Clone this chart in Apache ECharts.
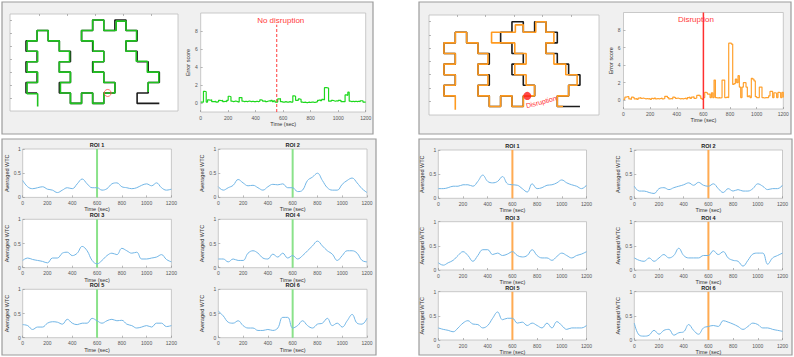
<!DOCTYPE html>
<html><head><meta charset="utf-8">
<script src="https://cdn.jsdelivr.net/npm/echarts@6/dist/echarts.min.js"></script>
<style>html,body{margin:0;padding:0;background:#fff}#c{width:794px;height:357px}</style>
</head><body><div id="c"></div>
<script>
// ---------------- DATA ----------------
const roiNames = ['ROI 1','ROI 2','ROI 3','ROI 4','ROI 5','ROI 6'];
const errTickValues = [0,2,4,6,8];
const mazeTickX = [1.15,3.67,6.19,8.71,11.23];
const mazeTickY = [0,1.25,2.5,3.75,5,6.25,7.5];
const noDisruptionTime = 553;
const disruptionTime = 600;
const disruptionPoint = [7.35, 7];

// reference maze path (black), grid units
const mazeRef = [[1,7],[0,7],[0,6],[1,6],[1,5],[0,5],[0,4],[1,4],[1,3],[0,3],[0,2],[1,2],[1,1],[2,1],[2,2],[3,2],[3,3],[4,3],[4,4],[3,4],[3,5],[4,5],[4,6],[3,6],[3,7],[4,7],[4,8],[5,8],[5,7],[6,7],[6,8],[7,8],[7,7],[8,7],[8,6],[7,6],[7,5],[6,5],[6,4],[7,4],[7,3],[6,3],[6,2],[5,2],[5,1],[6,1],[6,0],[7,0],[7,1],[8,1],[8,0],[9,0],[9,1],[10,1],[10,2],[9,2],[9,3],[10,3],[10,4],[11,4],[11,5],[12,5],[12,6],[11,6],[11,7],[10,7],[10,8],[12,8]];
// player path without disruption (green)
const mazePathA = [[1.05,8.3],[1.05,7.08],[0.1,7.08],[0.1,6],[1.05,6],[1.05,5],[0.1,5],[0.1,4],[1.05,4],[1.05,3],[0.1,3],[0.1,2],[1,2],[1,1],[2,1],[2,2],[3,2],[3,3],[3.92,3],[3.92,4],[3,4],[3,5],[4,5],[4,6],[3.1,6],[3.1,7],[4,7],[4,8],[5,8],[5,7],[6,7],[6,8],[7,8],[7,7],[8,7],[8,6],[7,6],[7,5],[6.05,5],[6.05,4],[7,4],[7,3],[6.05,3],[6.05,2],[5,2],[5,1],[6,1],[6,0],[7,0],[7,1],[8.12,1],[8.12,0.1],[9,0.1],[9,1],[9.95,1],[9.95,2],[9,2],[9,3],[9.92,3],[9.92,3.95],[10.92,3.95],[10.92,5],[11.95,5],[11.95,6],[11,6],[11,6.9]];
// player path with disruption (orange)
const mazePathB = [[1,8.3],[1,7],[0,7],[0,6],[1,6],[1,5],[0,5],[0,4],[1,4],[1,3],[0,3],[0,2],[1,2],[1,1],[2,1],[2,2],[3,2],[3,3],[3.88,3],[3.88,4],[3,4],[3,5],[3.88,5],[3.88,6],[3,6],[3,7],[4,7],[4,8],[5,8],[5,7],[6,7],[6,8],[7,8],[7,7],[8,7],[8,6],[7.25,6],[7.25,5],[6.25,5],[6.25,4],[7.25,4],[7.25,3],[6.25,3],[6.25,2],[4.2,2],[4.2,1],[6.3,1],[6.3,0.3],[7,0.3],[7,1],[8.1,1],[8.1,0],[9,0],[9,1],[9.7,1],[9.7,2],[9,2],[9,3],[9.7,3],[9.7,4],[10.75,4],[10.75,5],[11.75,5],[11.75,6],[11,6],[11,7],[10,7],[10,8],[10.5,8]];

// error score, one value every 10 s from 0 to 1200 s
const errScoreA = [0.1,0.1,1.3,1.25,0.1,0.35,0.3,0.35,0.15,0.15,0.2,0.1,0.15,0.3,0.25,0.3,0.15,0.2,0.15,0.3,
0.75,0.7,0.2,0.15,0.2,0.2,0.15,0.1,0.6,0.6,0.2,0.15,0.2,0.15,0.2,0.2,0.15,0.2,0.15,0.15,
0.2,0.15,0.2,0.35,0.3,0.2,0.25,0.15,0.2,0.25,0.2,0.3,0.15,0.25,0.1,0.1,0.45,0.5,0.15,0.1,
0.1,0.15,0.1,0.1,0.15,0.1,0.1,0.8,0.75,0.3,0.3,0.45,0.4,0.1,0.05,0.1,0.05,0.05,0.1,0.05,
0.1,0.1,0.05,0.1,0.15,0.3,0.35,0.25,0.4,0.35,1.7,1.7,1.65,0.2,0.2,0.3,0.25,0.2,0.25,0.2,
0.3,0.3,0.15,0.15,0.15,0.9,0.85,1.2,0.2,0.15,0.2,0.15,0.2,0.15,0.2,0.15,0.25,0.25,0.1,0.1,0.1];
const errScoreB = [0.1,0.35,0.4,0.4,0.15,0.1,0.35,0.3,0.15,0.2,0.1,0.25,0.3,0.2,0.25,0.2,0.15,0.2,0.15,0.2,
0.1,0.2,0.15,0.25,0.15,0.2,0.15,0.2,0.25,0.15,0.2,0.45,0.45,0.3,0.15,0.2,0.15,0.35,0.3,0.2,
0.25,0.2,0.15,0.2,0.15,0.2,0.25,0.15,0.3,0.35,0.2,0.35,0.4,0.2,0.25,0.55,0.6,0.5,0.2,0.1,
0.3,0.9,0.85,0.7,0.7,0.3,0.85,0.3,2.3,0.3,0.25,0.3,0.25,0.3,2.3,2.3,0.3,0.35,0.3,6.5,
6.5,6.4,1.8,1.9,2.4,2.0,2.8,1.5,0.3,1.5,2.0,2.0,1.5,0.4,0.5,0.3,2.5,2.4,2.2,0.4,
0.3,0.3,1.5,1.5,0.3,0.25,0.3,0.3,0.3,0.5,1.0,1.0,0.3,0.85,0.8,0.3,0.9,0.85,0.3,0.9,0.3];

// averaged WTC, one value every 40 s from 0 to 1200 s
const wtcNoDisruption = [
[0.35,0.22,0.18,0.2,0.22,0.17,0.15,0.1,0.15,0.2,0.18,0.28,0.38,0.28,0.2,0.2,0.15,0.18,0.28,0.3,0.22,0.2,0.18,0.2,0.25,0.28,0.24,0.3,0.2,0.15,0.17],
[0.22,0.15,0.2,0.25,0.37,0.3,0.24,0.25,0.2,0.15,0.22,0.27,0.26,0.28,0.2,0.2,0.12,0.15,0.35,0.42,0.5,0.35,0.2,0.15,0.15,0.27,0.35,0.4,0.3,0.18,0.1],
[0.15,0.2,0.17,0.15,0.13,0.1,0.2,0.2,0.3,0.32,0.25,0.3,0.44,0.35,0.15,0.08,0.15,0.25,0.3,0.27,0.4,0.35,0.3,0.32,0.18,0.18,0.2,0.22,0.27,0.17,0.12],
[0.18,0.18,0.12,0.18,0.15,0.15,0.3,0.35,0.3,0.2,0.18,0.28,0.22,0.3,0.2,0.25,0.18,0.25,0.35,0.45,0.55,0.45,0.35,0.28,0.15,0.25,0.35,0.35,0.3,0.15,0.12],
[0.27,0.25,0.17,0.22,0.22,0.3,0.33,0.32,0.28,0.38,0.3,0.27,0.3,0.3,0.4,0.35,0.3,0.35,0.38,0.35,0.36,0.28,0.25,0.2,0.22,0.25,0.22,0.3,0.3,0.23,0.25],
[0.55,0.45,0.32,0.3,0.35,0.25,0.2,0.2,0.15,0.15,0.17,0.15,0.2,0.42,0.42,0.2,0.25,0.35,0.25,0.2,0.28,0.3,0.4,0.25,0.3,0.22,0.35,0.48,0.3,0.28,0.4]
];
const wtcDisruption = [
[0.2,0.2,0.22,0.25,0.25,0.28,0.28,0.25,0.35,0.48,0.35,0.32,0.35,0.45,0.3,0.28,0.27,0.2,0.13,0.3,0.2,0.22,0.27,0.28,0.32,0.38,0.32,0.28,0.25,0.2,0.27],
[0.25,0.15,0.15,0.12,0.1,0.2,0.22,0.18,0.22,0.25,0.28,0.32,0.27,0.33,0.27,0.25,0.3,0.2,0.12,0.2,0.15,0.18,0.15,0.15,0.2,0.3,0.25,0.18,0.2,0.2,0.27],
[0.15,0.1,0.15,0.2,0.3,0.38,0.3,0.18,0.3,0.42,0.42,0.32,0.35,0.3,0.33,0.38,0.3,0.27,0.3,0.42,0.3,0.25,0.25,0.2,0.28,0.35,0.3,0.25,0.3,0.33,0.38],
[0.25,0.2,0.18,0.25,0.18,0.25,0.32,0.25,0.3,0.45,0.3,0.25,0.25,0.25,0.3,0.3,0.4,0.32,0.38,0.25,0.2,0.18,0.08,0.2,0.33,0.35,0.35,0.12,0.25,0.3,0.35],
[0.25,0.22,0.2,0.17,0.25,0.35,0.4,0.33,0.32,0.25,0.3,0.45,0.58,0.42,0.45,0.45,0.35,0.37,0.3,0.35,0.3,0.25,0.35,0.25,0.38,0.3,0.22,0.25,0.25,0.25,0.3],
[0.35,0.1,0.08,0.1,0.2,0.12,0.2,0.22,0.1,0.15,0.17,0.32,0.2,0.12,0.25,0.28,0.3,0.28,0.4,0.37,0.33,0.28,0.22,0.28,0.35,0.32,0.25,0.25,0.22,0.2,0.18]
];
const errStep = 10, wtcStep = 40;

// ---------------- CHART ----------------
const FONT = '"Liberation Sans", Arial, Helvetica, sans-serif';
const chart = echarts.init(document.getElementById('c'), null, {renderer:'svg'});
const grids=[], xAxes=[], yAxes=[], series=[];
const tickLS = {color:'#8a8a8a', width:0.6};
const labStyle = {fontSize:5, color:'#555', fontFamily:FONT, formatter:v=>String(v)};
const nameStyle = {fontSize:5.5, color:'#333', fontFamily:FONT};
const noLine = {show:false,onZero:false};

function addGrid(l,t,w,h){
  grids.push({left:l,top:t,width:w,height:h,show:true,backgroundColor:'#fff',borderColor:'#bdbdbd',borderWidth:0.8,containLabel:false});
  return grids.length-1;
}
function mazeAxes(gi,xmin,xmax,ymin,ymax){
  xAxes.push({type:'value',gridIndex:gi,min:xmin,max:xmax,position:'top',axisLine:noLine,splitLine:{show:false},
    axisLabel:{show:false},axisTick:{show:true,inside:true,length:2,customValues:mazeTickX,lineStyle:tickLS}});
  yAxes.push({type:'value',gridIndex:gi,min:ymin,max:ymax,inverse:true,position:'left',axisLine:noLine,splitLine:{show:false},
    axisLabel:{show:false},axisTick:{show:true,inside:true,length:2,customValues:mazeTickY,lineStyle:tickLS}});
}
function timeAxis(gi, margin, gap){
  xAxes.push({type:'value',gridIndex:gi,min:0,max:1200,interval:200,position:'bottom',axisLine:noLine,splitLine:{show:false},
    axisTick:{show:true,inside:true,length:2,lineStyle:tickLS},axisLabel:Object.assign({margin:margin},labStyle),
    name:'Time (sec)',nameLocation:'middle',nameGap:gap,nameTextStyle:nameStyle});
}
function lineSeries(gi,data,color,width,extra){
  series.push(Object.assign({type:'line',xAxisIndex:gi,yAxisIndex:gi,data:data,symbol:'none',silent:true,color:color,
    itemStyle:{color:color},lineStyle:{color:color,width:width},animation:false},extra||{}));
}

// --- top-left: maze A
let g = addGrid(10,14,168,97);
mazeAxes(g,-1.44,13.68,-0.58,8.73);
lineSeries(g,mazeRef,'#1c1c1c',1.6);
lineSeries(g,mazePathA,'#1fc21f',1.6);
series.push({type:'scatter',xAxisIndex:g,yAxisIndex:g,data:[disruptionPoint],symbol:'circle',symbolSize:7,silent:true,
  itemStyle:{color:'rgba(0,0,0,0)',borderColor:'#ff4a4a',borderWidth:1},z:5});
const gMazeA = g;

// --- top-left: error A
g = addGrid(200.7,13,165,99);
timeAxis(g,3,8);
yAxes.push({type:'value',gridIndex:g,min:-1,max:10,position:'left',axisLine:noLine,splitLine:{show:false},
  axisTick:{show:true,inside:true,length:2,customValues:errTickValues,lineStyle:tickLS},
  axisLabel:Object.assign({customValues:errTickValues,margin:3},labStyle),
  name:'Error score',nameLocation:'middle',nameGap:7,nameTextStyle:nameStyle});
lineSeries(g,errScoreA.map((v,i)=>[i*errStep,v]),'#1ed81e',1.2,{step:'end'});
lineSeries(g,[[noDisruptionTime,-1],[noDisruptionTime,8.7]],'#ff3b3b',1,{lineStyle:{color:'#ff3b3b',width:1,type:[3,2]}});
const gErrA = g;

// --- top-right: maze B
g = addGrid(429,15,170,100);
mazeAxes(g,-1.32,13.68,-0.63,8.8);
lineSeries(g,mazeRef,'#1c1c1c',1.6);
lineSeries(g,mazePathB,'#ff9a1f',1.6);
series.push({type:'scatter',xAxisIndex:g,yAxisIndex:g,data:[disruptionPoint],symbol:'circle',symbolSize:8,silent:true,
  itemStyle:{color:'#ff1a1a'},z:5});
const gMazeB = g;

// --- top-right: error B
g = addGrid(623.5,12.5,159.8,96.5);
timeAxis(g,2,7);
yAxes.push({type:'value',gridIndex:g,min:-1,max:10,position:'left',axisLine:noLine,splitLine:{show:false},
  axisTick:{show:true,inside:true,length:2,customValues:errTickValues,lineStyle:tickLS},
  axisLabel:Object.assign({customValues:errTickValues,margin:3},labStyle),
  name:'Error score',nameLocation:'middle',nameGap:7,nameTextStyle:nameStyle});
lineSeries(g,errScoreB.map((v,i)=>[i*errStep,v]),'#ffa12e',1.2,{step:'end'});
lineSeries(g,[[disruptionTime,-1],[disruptionTime,10]],'#ff3030',1.5,{z:4});
const gErrB = g;

// --- bottom small multiples
const roiGrids = [];
function roiPanel(colLefts,rowTops,w,h,dataSet,markColor){
  for(let k=0;k<6;k++){
    const r=Math.floor(k/2), c=k%2;
    const gi = addGrid(colLefts[c],rowTops[r],w,h);
    roiGrids.push({gi:gi,x:colLefts[c]+w/2,y:rowTops[r]-4,name:roiNames[k]});
    timeAxis(gi,3,8);
    yAxes.push({type:'value',gridIndex:gi,min:0,max:1,interval:0.5,position:'left',axisLine:noLine,splitLine:{show:false},
      axisTick:{show:true,inside:true,length:2,lineStyle:tickLS},axisLabel:Object.assign({margin:2},labStyle),
      name:'Averaged WTC',nameLocation:'middle',nameGap:7.5,nameTextStyle:nameStyle});
    lineSeries(gi,[[disruptionTime,0],[disruptionTime,1]],markColor,2);
    lineSeries(gi,dataSet[k].map((v,i)=>[i*wtcStep,v]),'#72b6e6',1,{smooth:0.4});
  }
}
roiPanel([22.7,218.3],[149,219.3,289.3],148.7,48.4,wtcNoDisruption,'#8ae28a');
roiPanel([438.3,634.3],[150,221.7,291.7],148.2,48.3,wtcDisruption,'#ffab52');

chart.setOption({animation:false,backgroundColor:'#fff',textStyle:{fontFamily:FONT},
  grid:grids,xAxis:xAxes,yAxis:yAxes,series:series});

// ---------------- annotations (anchored through the scales) ----------------
const gfx = [];
const panels = [[2,2,371,132],[419,2,372,132],[2,139,374,216],[419,139,373,216]];
panels.forEach(p=>gfx.push({type:'rect',z:-10,shape:{x:p[0],y:p[1],width:p[2],height:p[3]},
  style:{fill:'#f0f0f0',stroke:'#9c9c9c',lineWidth:1.2},silent:true}));
roiGrids.forEach(t=>gfx.push({type:'text',z:50,x:t.x,y:t.y,silent:true,
  style:{text:t.name,fontSize:5.5,fontWeight:'bold',fill:'#222',align:'center',verticalAlign:'middle',fontFamily:FONT}}));
const pA = chart.convertToPixel({gridIndex:gErrA},[noDisruptionTime,9.2]);
gfx.push({type:'text',z:50,x:pA[0]+4,y:pA[1],silent:true,
  style:{text:'No disruption',fontSize:8,fill:'#ff3b3b',align:'center',verticalAlign:'middle',fontFamily:FONT}});
const pB = chart.convertToPixel({gridIndex:gErrB},[disruptionTime,9.2]);
gfx.push({type:'text',z:50,x:pB[0]-7.5,y:pB[1],silent:true,
  style:{text:'Disruption',fontSize:8,fill:'#ff3b3b',align:'center',verticalAlign:'middle',fontFamily:FONT}});
const pD = chart.convertToPixel({gridIndex:gMazeB},disruptionPoint);
gfx.push({type:'text',z:50,x:pD[0]+14,y:pD[1]+6,rotation:0.26,silent:true,
  style:{text:'Disruption',fontSize:7,fill:'#ff3030',align:'center',verticalAlign:'middle',fontFamily:FONT}});
chart.setOption({graphic:gfx});
</script></body></html>
